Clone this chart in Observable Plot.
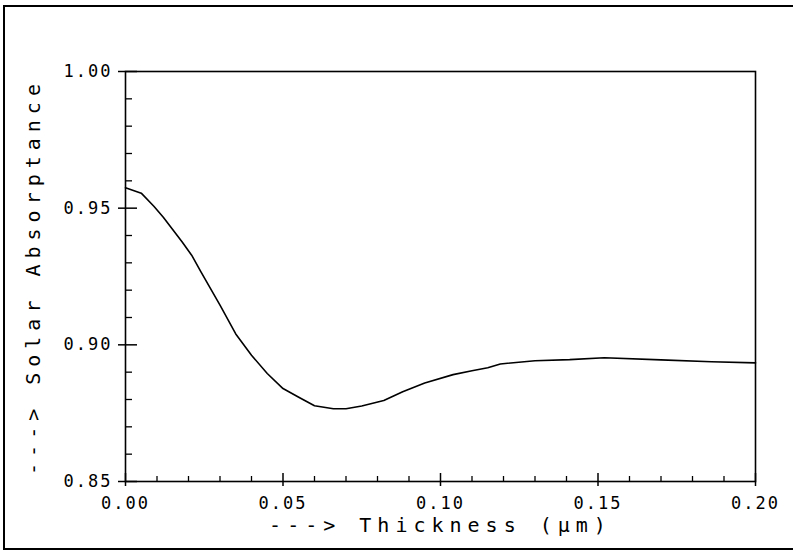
<!DOCTYPE html>
<html>
<head>
<meta charset="utf-8">
<script src="https://cdn.jsdelivr.net/npm/d3@7"></script>
<script src="https://cdn.jsdelivr.net/npm/@observablehq/plot@0.6"></script>
<style>
  html, body { margin: 0; padding: 0; background: #fff; }
  #wrap { position: relative; width: 793px; height: 556px; overflow: hidden; }
  #border { position: absolute; left: 3px; top: 5px; width: 820px; height: 545px; border: 2px solid #000; box-sizing: border-box; }
  #chart { position: absolute; left: 0; top: 0; }
  #chart svg text { font-family: "DejaVu Sans Mono", monospace; }
  #chart svg g[aria-label="x-axis tick label"] text,
  #chart svg g[aria-label="y-axis tick label"] text { letter-spacing: 2px; font-size: 17px; }
  #chart svg g[aria-label="x-axis label"] text,
  #chart svg g[aria-label="y-axis label"] text { letter-spacing: 6px; font-size: 20px; }
</style>
</head>
<body>
<div id="wrap"><div id="border"></div><div id="chart"></div></div>
<script>
// Curve: thickness (µm) vs solar absorptance
const thickness = [0.000, 0.005, 0.009, 0.012, 0.018, 0.021, 0.024, 0.030, 0.035, 0.040,
                   0.045, 0.050, 0.055, 0.060, 0.066, 0.070, 0.075, 0.082, 0.088, 0.095,
                   0.104, 0.110, 0.115, 0.119, 0.130, 0.141, 0.152, 0.170, 0.186, 0.200];
const absorptance = [0.9575, 0.9555, 0.9507, 0.9467, 0.9376, 0.9328, 0.9266, 0.9145, 0.9040, 0.8962,
                     0.8895, 0.8840, 0.8808, 0.8777, 0.8766, 0.8766, 0.8776, 0.8796, 0.8828, 0.8860,
                     0.8891, 0.8905, 0.8916, 0.8930, 0.8942, 0.8946, 0.8953, 0.8945, 0.8938, 0.8934];

const xMajor = [0.00, 0.05, 0.10, 0.15, 0.20];
const xMinor = d3.range(0, 21).map(i => i / 100).filter(v => Math.round(v * 100) % 5 !== 0);
const yMajor = [0.85, 0.90, 0.95, 1.00];
const yMinor = d3.range(85, 101).map(i => i / 100).filter(v => Math.round(v * 100) % 5 !== 0);

const xTitle = "---> Thickness (\u00b5m)";
const yTitle = "---> Solar Absorptance";

const data = thickness.map((t, i) => ({t, a: absorptance[i]}));

const chart = Plot.plot({
  width: 793,
  height: 556,
  marginLeft: 125,
  marginRight: 38,
  marginTop: 71,
  marginBottom: 75,
  style: {fontSize: "17px", fontFamily: "DejaVu Sans Mono, monospace", color: "#000", background: "transparent"},
  x: {domain: [0, 0.2]},
  y: {domain: [0.85, 1.0]},
  marks: [
    Plot.frame({stroke: "#000", strokeWidth: 1.6}),
    Plot.axisX({ticks: xMajor, tickSize: 5, tickPadding: 10, tickFormat: d3.format(".2f"), label: null, strokeWidth: 1.5}),
    Plot.axisX({ticks: xMajor, tickSize: -8, text: null, label: null, strokeWidth: 1.5}),
    Plot.axisX({ticks: xMinor, tickSize: -5, text: null, label: null, strokeWidth: 1.3}),
    Plot.axisY({ticks: yMajor, tickSize: 7, tickPadding: 6, tickFormat: d3.format(".2f"), label: null, strokeWidth: 1.5}),
    Plot.axisY({ticks: yMajor, tickSize: -12, text: null, label: null, strokeWidth: 1.5}),
    Plot.axisY({ticks: yMinor, tickSize: -7, text: null, label: null, strokeWidth: 1.3}),
    Plot.axisX({ticks: [], tickSize: 0, label: xTitle, labelAnchor: "center", labelArrow: "none", labelOffset: 50}),
    Plot.axisY({ticks: [], tickSize: 0, label: yTitle, labelAnchor: "center", labelArrow: "none", labelOffset: 100}),
    Plot.line(data, {x: "t", y: "a", stroke: "#000", strokeWidth: 1.6})
  ]
});
document.getElementById("chart").appendChild(chart);
</script>
</body>
</html>
